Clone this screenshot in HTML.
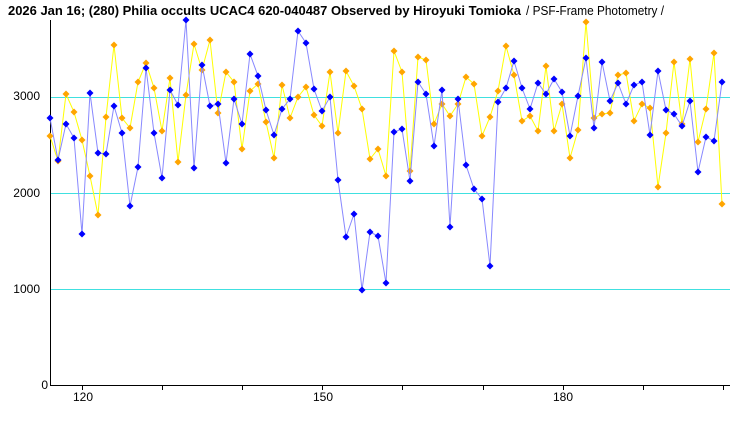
<!DOCTYPE html>
<html><head><meta charset="utf-8"><style>
html,body{margin:0;padding:0;background:#fff;}
svg{display:block;}
text{font-family:"Liberation Sans","Noto Sans CJK JP",sans-serif;}
</style></head><body>
<svg width="740" height="425" viewBox="0 0 740 425" xmlns="http://www.w3.org/2000/svg">
<defs>
<marker id="mb" markerWidth="8" markerHeight="8" refX="4" refY="4" markerUnits="userSpaceOnUse"><path d="M4,0.5 L7.5,4 L4,7.5 L0.5,4Z" fill="#0000ff"/></marker>
<marker id="mo" markerWidth="8" markerHeight="8" refX="4" refY="4" markerUnits="userSpaceOnUse"><path d="M4,0.5 L7.5,4 L4,7.5 L0.5,4Z" fill="#ffa500"/></marker>
</defs>
<text x="8" y="15" font-size="13" font-weight="bold" fill="#000" textLength="513" lengthAdjust="spacingAndGlyphs">2026 Jan 16; (280) Philia occults UCAC4 620-040487 Observed by Hiroyuki Tomioka</text>
<text x="526" y="15" font-size="13" fill="#000" textLength="138" lengthAdjust="spacingAndGlyphs">/ PSF-Frame Photometry /</text>
<g stroke="#40e0e0" stroke-width="1">
<line x1="50" y1="97.5" x2="730" y2="97.5"/>
<line x1="50" y1="193.5" x2="730" y2="193.5"/>
<line x1="50" y1="289.5" x2="730" y2="289.5"/>
</g>
<g font-size="12" fill="#000" text-anchor="end">
<text x="40" y="100">3000</text>
<text x="40" y="197">2000</text>
<text x="40" y="293">1000</text>
<text x="48" y="389">0</text>
</g>
<g stroke="#000" stroke-width="1">
<line x1="50.5" y1="20" x2="50.5" y2="385"/>
<line x1="50" y1="385.5" x2="730" y2="385.5"/>
<line x1="82.5" y1="385" x2="82.5" y2="390"/>
<line x1="162.5" y1="385" x2="162.5" y2="390"/>
<line x1="242.5" y1="385" x2="242.5" y2="390"/>
<line x1="322.5" y1="385" x2="322.5" y2="390"/>
<line x1="402.5" y1="385" x2="402.5" y2="390"/>
<line x1="483.5" y1="385" x2="483.5" y2="390"/>
<line x1="563.5" y1="385" x2="563.5" y2="390"/>
<line x1="643.5" y1="385" x2="643.5" y2="390"/>
<line x1="723.5" y1="385" x2="723.5" y2="390"/>
</g>
<g font-size="12" fill="#000" text-anchor="middle">
<text x="83" y="401">120</text>
<text x="323" y="401">150</text>
<text x="563" y="401">180</text>
</g>
<polyline fill="none" stroke="#ffff00" stroke-width="1" marker-start="url(#mo)" marker-mid="url(#mo)" marker-end="url(#mo)" points="50,136 58,161 66,94 74,112 82,140 90,176 98,215 106,117 114,45 122,118 130,128 138,82 146,63 154,88 162,131 170,78 178,162 186,95 194,44 202,70 210,40 218,113 226,72 234,82 242,149 250,91 258,84 266,122 274,158 282,85 290,118 298,97 306,87 314,115 322,126 330,72 338,133 346,71 354,86 362,109 370,159 378,149 386,176 394,51 402,72 410,171 418,57 426,60 434,124 442,104 450,116 458,104 466,77 474,84 482,136 490,117 498,91 506,46 514,75 522,121 530,116 538,131 546,66 554,131 562,104 570,158 578,130 586,22 594,118 602,114 610,113 618,75 626,73 634,121 642,104 650,108 658,187 666,133 674,62 682,124 690,59 698,142 706,109 714,53 722,204"/>
<polyline fill="none" stroke="#8888ff" stroke-width="1" marker-start="url(#mb)" marker-mid="url(#mb)" marker-end="url(#mb)" points="50,118 58,160 66,124 74,138 82,234 90,93 98,153 106,154 114,106 122,133 130,206 138,167 146,68 154,133 162,178 170,90 178,105 186,20 194,168 202,65 210,106 218,104 226,163 234,99 242,124 250,54 258,76 266,110 274,135 282,109 290,99 298,31 306,43 314,89 322,111 330,97 338,180 346,237 354,214 362,290 370,232 378,236 386,283 394,132 402,129 410,181 418,82 426,94 434,146 442,90 450,227 458,99 466,165 474,189 482,199 490,266 498,102 506,88 514,61 522,88 530,109 538,83 546,94 554,79 562,92 570,136 578,96 586,58 594,128 602,62 610,101 618,83 626,104 634,85 642,82 650,135 658,71 666,110 674,114 682,126 690,101 698,172 706,137 714,141 722,82"/>
</svg>
</body></html>
